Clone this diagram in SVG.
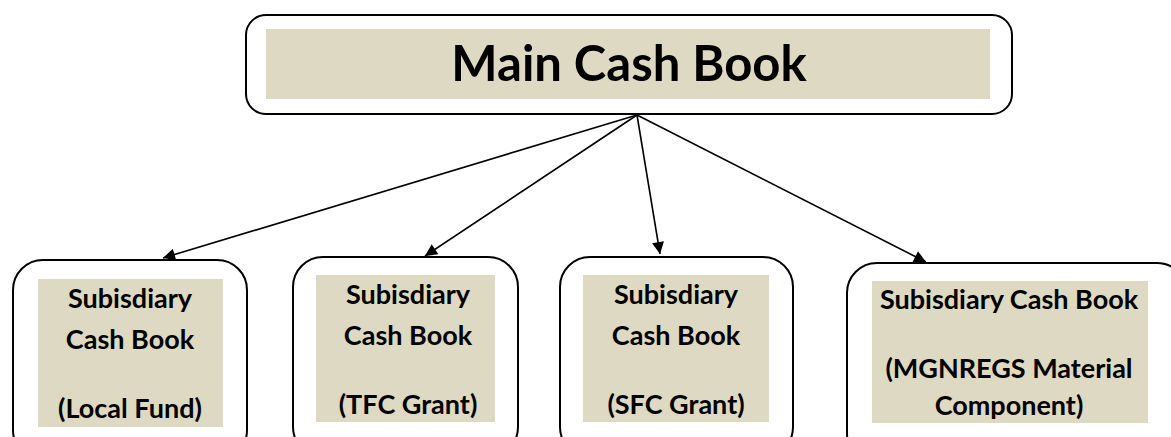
<svg xmlns="http://www.w3.org/2000/svg" width="1171" height="437" viewBox="0 0 1171 437">
<style>
.frame{fill:#fff;stroke:#000;stroke-width:2}
.fill{fill:#ddd9c3}
.t{font-family:Lato,"Liberation Sans",sans-serif;font-weight:bold;fill:#000;text-anchor:middle}
.main{font-size:49px}
.sub{font-size:27px}
.conn{stroke:#000;stroke-width:1.6;fill:none;marker-end:url(#ah)}
</style>
<defs>
<marker id="ah" viewBox="0 0 10 10" refX="10" refY="5" markerWidth="15" markerHeight="12" markerUnits="userSpaceOnUse" orient="auto">
<path d="M0,0 L10,5 L0,10 z" fill="#000"/>
</marker>
</defs>
<g id="connectors">
<line class="conn" x1="637" y1="115" x2="163" y2="258"/>
<line class="conn" x1="637" y1="115" x2="425" y2="256"/>
<line class="conn" x1="637" y1="115" x2="660" y2="254"/>
<line class="conn" x1="637" y1="115" x2="926" y2="262"/>
</g>
<g id="main">
<rect class="frame" x="246" y="15" width="766" height="99" rx="20"/>
<rect class="fill" x="266" y="29" width="724" height="70"/>
<text class="t main" x="629" y="81">Main Cash Book</text>
</g>
<g id="sub1">
<rect class="frame" x="13" y="260" width="234" height="200" rx="30"/>
<rect class="fill" x="38" y="279" width="185" height="148"/>
<text class="t sub" x="130" y="308">Subisdiary</text>
<text class="t sub" x="130" y="349">Cash Book</text>
<text class="t sub" x="130" y="418">(Local Fund)</text>
</g>
<g id="sub2">
<rect class="frame" x="293" y="257" width="225" height="200" rx="30"/>
<rect class="fill" x="316" y="275" width="179" height="147"/>
<text class="t sub" x="408" y="304">Subisdiary</text>
<text class="t sub" x="408" y="345">Cash Book</text>
<text class="t sub" x="408" y="414">(TFC Grant)</text>
</g>
<g id="sub3">
<rect class="frame" x="560" y="257" width="233" height="200" rx="30"/>
<rect class="fill" x="583" y="275" width="186" height="147"/>
<text class="t sub" x="676" y="304">Subisdiary</text>
<text class="t sub" x="676" y="345">Cash Book</text>
<text class="t sub" x="676" y="414">(SFC Grant)</text>
</g>
<g id="sub4">
<rect class="frame" x="847" y="263" width="340" height="200" rx="30"/>
<rect class="fill" x="872" y="281" width="276" height="142"/>
<text class="t sub" x="1009" y="309">Subisdiary Cash Book</text>
<text class="t sub" x="1009" y="378">(MGNREGS Material</text>
<text class="t sub" x="1009" y="415">Component)</text>
</g>
</svg>
